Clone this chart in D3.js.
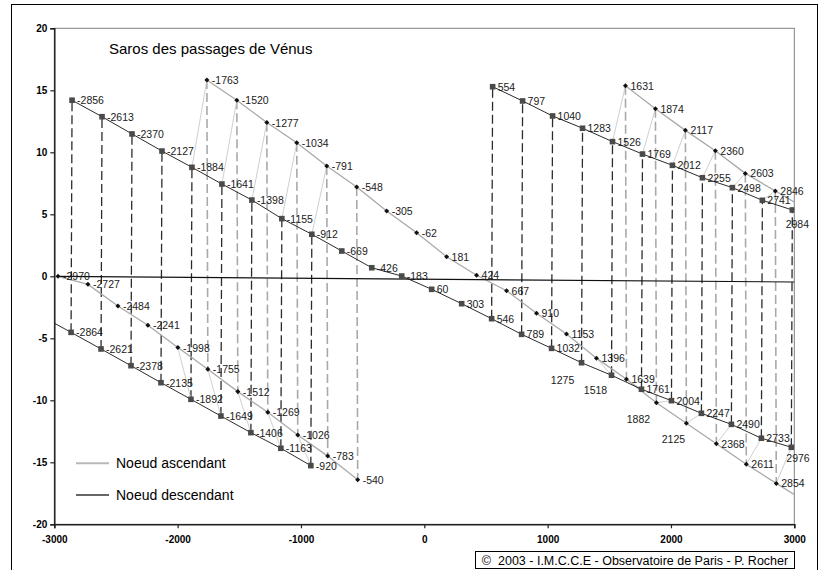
<!DOCTYPE html>
<html>
<head>
<meta charset="utf-8">
<script src="https://cdn.jsdelivr.net/npm/d3@7/dist/d3.min.js"></script>
<style>
  body { margin: 0; background: #fff; }
  svg { display: block; }
  text { font-family: "Liberation Sans", Arial, sans-serif; }
</style>
</head>
<body>
<svg id="chart" width="819" height="570"></svg>
<script>
// Venus transits, grouped by saros branch (year, value)

// Descending node (December transits)
const descYearsA = [-2856, -2613, -2370, -2127, -1884, -1641, -1398, -1155, -912, -669, -426, -183, 60, 303, 546, 789, 1032, 1275, 1518, 1761, 2004, 2247, 2490, 2733, 2976];
const descValsA  = [14.2, 12.87, 11.48, 10.1, 8.79, 7.44, 6.15, 4.65, 3.39, 2.04, 0.69, 0.02, -1.05, -2.21, -3.42, -4.68, -5.81, -6.97, -7.98, -9.11, -10.03, -11.05, -11.94, -13.06, -13.79];

const descYearsB = [-3107, -2864, -2621, -2378, -2135, -1892, -1649, -1406, -1163, -920];
const descValsB  = [-3.2, -4.52, -5.86, -7.21, -8.58, -9.92, -11.27, -12.61, -13.87, -15.27];

const descYearsC = [554, 797, 1040, 1283, 1526, 1769, 2012, 2255, 2498, 2741, 2984];
const descValsC  = [15.29, 14.14, 12.93, 11.94, 10.86, 9.86, 8.95, 7.95, 7.15, 6.13, 5.35];

// Ascending node (June transits)
const ascYearsD = [-2970, -2727, -2484, -2241, -1998, -1755, -1512, -1269, -1026, -783, -540];
const ascValsD  = [0.0, -0.65, -2.4, -3.95, -5.75, -7.5, -9.3, -10.97, -12.8, -14.5, -16.4];

const ascYearsE = [-1763, -1520, -1277, -1034, -791, -548, -305, -62, 181, 424, 667, 910, 1153, 1396, 1639, 1882, 2125, 2368, 2611, 2854, 3097];
const ascValsE  = [15.83, 14.2, 12.4, 10.77, 8.9, 7.2, 5.27, 3.52, 1.58, 0.08, -1.16, -2.98, -4.65, -6.6, -8.3, -10.2, -11.85, -13.5, -15.16, -16.7, -18.2];

const ascYearsF = [1631, 1874, 2117, 2360, 2603, 2846, 3089];
const ascValsF  = [15.37, 13.52, 11.77, 10.13, 8.3, 6.88, 5.46];

// Line of nodes
const nodeYears = [-2970, 3000];
const nodeVals  = [0.0, -0.46];

// Successive transits linked in time order (periods with pairs at both nodes)
const chainEarly = [-1998, -1892, -1884, -1763, -1755, -1649, -1641, -1520, -1512, -1406, -1398, -1277, -1269, -1163, -1155, -1034, -1026, -920, -912, -791, -783];
const chainLate  = [1396, 1518, 1526, 1631, 1639, 1761, 1769, 1874, 1882, 2004, 2012, 2117, 2125, 2247, 2255, 2360, 2368, 2490, 2498, 2603, 2611, 2733, 2741, 2846, 2854, 2976, 2984];

const xTicks = [-3000, -2000, -1000, 0, 1000, 2000, 3000];
const yTicks = [-20, -15, -10, -5, 0, 5, 10, 15, 20];

const titleText = "Saros des passages de Vénus";
const legendLabels = ["Noeud ascendant", "Noeud descendant"];
const creditText = "©  2003 - I.M.C.C.E - Observatoire de Paris - P. Rocher";

// ---------------------------------------------------------------
const svg = d3.select("#chart");
const W = 819, H = 570;
const plot = { left: 54.3, right: 794.3, top: 28.3, bottom: 524.3 };

const x = d3.scaleLinear().domain([-3000, 3000]).range([plot.left, plot.right]);
const y = d3.scaleLinear().domain([-20, 20]).range([plot.bottom, plot.top]);

const zip = (ys, vs, node) => ys.map((yr, i) => ({ year: yr, v: vs[i], node }));
const descSeries = [zip(descYearsA, descValsA, "desc"), zip(descYearsB, descValsB, "desc"), zip(descYearsC, descValsC, "desc")];
const ascSeries  = [zip(ascYearsD, ascValsD, "asc"), zip(ascYearsE, ascValsE, "asc"), zip(ascYearsF, ascValsF, "asc")];
const inRange = d => d.year >= -3000 && d.year <= 3000;
const allPoints = [...descSeries.flat(), ...ascSeries.flat()].filter(inRange).sort((a, b) => a.year - b.year);
const byYear = new Map(allPoints.map(d => [d.year, d]));

const COL_DARK = "#2b2b2b", COL_LIGHT = "#a9a9a9", COL_LINK = "#c9c9c9";

// outer frame
svg.append("rect").attr("x", 11.5).attr("y", 4.5).attr("width", W - 13).attr("height", H - 3)
  .attr("fill", "none").attr("stroke", "#000").attr("stroke-width", 1);

svg.append("defs").append("clipPath").attr("id", "plotClip")
  .append("rect").attr("x", plot.left).attr("y", plot.top)
  .attr("width", plot.right - plot.left).attr("height", plot.bottom - plot.top);

// plot-area border
svg.append("rect").attr("x", plot.left).attr("y", plot.top)
  .attr("width", plot.right - plot.left).attr("height", plot.bottom - plot.top)
  .attr("fill", "none").attr("stroke", "#808080").attr("stroke-width", 1);

const g = svg.append("g").attr("clip-path", "url(#plotClip)");
const line = d3.line().x(d => x(d.year)).y(d => y(d.v));

// 8-year pairs: dashed connectors
const pairs = [];
for (let i = 1; i < allPoints.length; i++) {
  const a = allPoints[i - 1], b = allPoints[i];
  if (b.year - a.year <= 10) pairs.push([a, b]);
}
g.append("g").selectAll("line").data(pairs).join("line")
  .attr("x1", d => x(d[0].year)).attr("y1", d => y(d[0].v))
  .attr("x2", d => x(d[1].year)).attr("y2", d => y(d[1].v))
  .attr("stroke", d => d[0].node === "desc" ? COL_DARK : COL_LIGHT)
  .attr("stroke-width", d => d[0].node === "desc" ? 1.3 : 1.6)
  .attr("stroke-dasharray", "9,4");

// time-order links between successive, non-paired transits
const links = [];
[chainEarly, chainLate].forEach(ch => {
  for (let i = 1; i < ch.length; i++) {
    if (ch[i] - ch[i - 1] > 10) links.push([byYear.get(ch[i - 1]), byYear.get(ch[i])]);
  }
});
g.append("g").selectAll("line").data(links).join("line")
  .attr("x1", d => x(d[0].year)).attr("y1", d => y(d[0].v))
  .attr("x2", d => x(d[1].year)).attr("y2", d => y(d[1].v))
  .attr("stroke", COL_LINK).attr("stroke-width", 0.9);

// saros branches
g.append("g").selectAll("path").data(ascSeries).join("path")
  .attr("d", line).attr("fill", "none").attr("stroke", COL_LIGHT).attr("stroke-width", 1.3);
g.append("g").selectAll("path").data(descSeries).join("path")
  .attr("d", line).attr("fill", "none").attr("stroke", COL_DARK).attr("stroke-width", 1);

// line of nodes
g.append("path").datum(zip(nodeYears, nodeVals, "node"))
  .attr("d", line).attr("fill", "none").attr("stroke", "#111").attr("stroke-width", 1.2);

// markers
const pts = allPoints;
g.append("g").selectAll("rect").data(pts.filter(d => d.node === "desc")).join("rect")
  .attr("x", d => x(d.year) - 2.8).attr("y", d => y(d.v) - 2.8)
  .attr("width", 5.6).attr("height", 5.6).attr("fill", "#4a4a4a");
const diamond = d3.symbol().type(d3.symbolDiamond2).size(16);
g.append("g").selectAll("path").data(pts.filter(d => d.node === "asc")).join("path")
  .attr("d", diamond)
  .attr("transform", d => `translate(${x(d.year)},${y(d.v)})`)
  .attr("fill", "#111");

// year labels
const labelPlace = {
  1275: { anchor: "middle", dx: -19, dy: 21 },
  1518: { anchor: "middle", dx: -16, dy: 19 },
  1882: { anchor: "middle", dx: -18, dy: 20 },
  2125: { anchor: "middle", dx: -13, dy: 20 },
  2984: { anchor: "middle", dx: 5, dy: 18 },
  2976: { anchor: "start", dx: -5, dy: 15 }
};
svg.append("g").selectAll("text").data(pts).join("text")
  .attr("x", d => x(d.year) + (labelPlace[d.year] ? labelPlace[d.year].dx : 5))
  .attr("y", d => y(d.v) + (labelPlace[d.year] ? labelPlace[d.year].dy : 4))
  .attr("text-anchor", d => labelPlace[d.year] ? labelPlace[d.year].anchor : "start")
  .attr("font-size", 10.5).attr("fill", "#1a1a1a")
  .text(d => d.year);

// axes
const yAxis = svg.append("g").attr("transform", `translate(${plot.left},0)`)
  .call(d3.axisLeft(y).tickValues(yTicks).tickSize(4).tickPadding(3));
const xAxis = svg.append("g").attr("transform", `translate(0,${plot.bottom})`)
  .call(d3.axisBottom(x).tickValues(xTicks).tickSize(4).tickPadding(8));
[yAxis, xAxis].forEach(ax => {
  ax.select(".domain").attr("stroke", "#222").attr("stroke-width", 1.5);
  ax.selectAll(".tick line").attr("stroke", "#222").attr("stroke-width", 1.2);
  ax.selectAll(".tick text").attr("font-family", "'Liberation Sans', Arial, sans-serif")
    .attr("font-size", 10).attr("font-weight", "bold").attr("fill", "#000")
    .text(d => String(d));
});

// title
svg.append("text").attr("x", 109).attr("y", 54).attr("font-size", 15).attr("fill", "#000").text(titleText);

// legend
const legend = svg.append("g");
legendLabels.forEach((lab, i) => {
  const ly = [463.3, 495][i];
  legend.append("line").attr("x1", 76).attr("x2", 109).attr("y1", ly).attr("y2", ly)
    .attr("stroke", i === 0 ? "#b8b8b8" : "#333").attr("stroke-width", i === 0 ? 2 : 1.6);
  legend.append("text").attr("x", 116).attr("y", ly + 5).attr("font-size", 14).attr("fill", "#000").text(lab);
});

// credit box
svg.append("rect").attr("x", 475.5).attr("y", 551.5).attr("width", 319).attr("height", 17)
  .attr("fill", "#fff").attr("stroke", "#000").attr("stroke-width", 1);
svg.append("text").attr("x", 635).attr("y", 564.5).attr("text-anchor", "middle")
  .style("white-space", "pre")
  .attr("font-size", 12.5).attr("fill", "#000").text(creditText);
</script>
</body>
</html>
